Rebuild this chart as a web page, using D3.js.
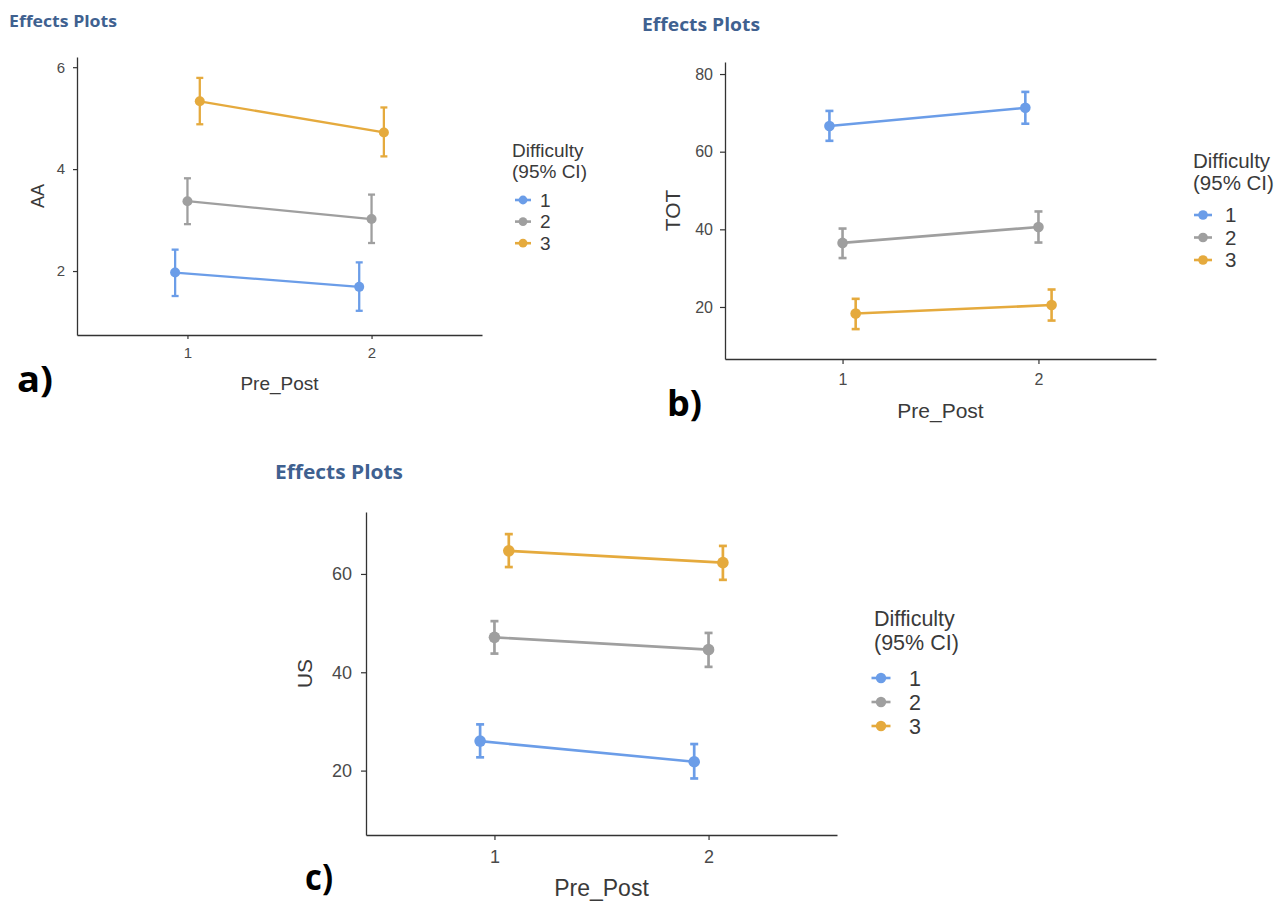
<!DOCTYPE html>
<html>
<head>
<meta charset="utf-8">
<script src="https://cdn.jsdelivr.net/npm/d3@7"></script>
<style>
  body { margin: 0; background: #fff; }
  svg { display: block; }
</style>
</head>
<body>
<svg id="chart" width="1285" height="904"></svg>
<script>
// x categories and groups
const prePost = [1, 2];
const difficulty = ["1", "2", "3"];

// panel a: AA, rows = difficulty, columns = Pre_Post
const aaMean  = [[1.97, 1.69], [3.37, 3.02], [5.33, 4.72]];
const aaLower = [[1.51, 1.22], [2.92, 2.55], [4.88, 4.25]];
const aaUpper = [[2.42, 2.17], [3.82, 3.50], [5.79, 5.21]];
const aaTicks = [2, 4, 6];
const aaRange = [0.745, 6.2];

// panel b: TOT
const totMean  = [[66.6, 71.3], [36.5, 40.6], [18.3, 20.5]];
const totLower = [[62.8, 67.2], [32.6, 36.6], [14.3, 16.5]];
const totUpper = [[70.5, 75.4], [40.2, 44.6], [22.1, 24.5]];
const totTicks = [20, 40, 60, 80];
const totRange = [6.6, 83.1];

// panel c: US
const usMean  = [[26.0, 21.8], [47.1, 44.6], [64.7, 62.3]];
const usLower = [[22.7, 18.4], [43.8, 41.1], [61.4, 58.8]];
const usUpper = [[29.4, 25.4], [50.4, 48.0], [68.1, 65.7]];
const usTicks = [20, 40, 60];
const usRange = [6.9, 72.6];

const colors = ["#6b9de8", "#9f9f9f", "#e5aa3d"];
const dodge = [-0.067, 0, 0.067];
const sans = "'Liberation Sans', Arial, sans-serif";
const heading = "'Open Sans', 'Noto Sans', sans-serif";

const panels = [
  { mean: aaMean, lo: aaLower, hi: aaUpper, ticks: aaTicks, ydom: aaRange,
    ylab: "AA", tag: "a)",
    box: { l: 77, r: 482, t: 57, b: 335 },
    tickFont: 15, tickSize: 4, yPad: 8, xPad: 8, r: 5, lw: 2.3, cap: 3.5,
    xLab: { y: 390, size: 19 }, yLab: { x: 44, size: 18 },
    title: { x: 9, y: 27, size: 16, len: 108 },
    tagPos: { x: 17, y: 392, len: 36 },
    legend: { x: 512, t1: 157, t2: 178, size: 19, y0: 200, dy: 21.6, kx: 523, kw: 8, kr: 4.4, lx: 540 } },
  { mean: totMean, lo: totLower, hi: totUpper, ticks: totTicks, ydom: totRange,
    ylab: "TOT", tag: "b)",
    box: { l: 725, r: 1156, t: 62, b: 359 },
    tickFont: 16, tickSize: 5, yPad: 7, xPad: 10, r: 5.3, lw: 2.6, cap: 4,
    xLab: { y: 418, size: 21 }, yLab: { x: 680, size: 21 },
    title: { x: 642, y: 31, size: 17.5, len: 118 },
    tagPos: { x: 667, y: 416, len: 35 },
    legend: { x: 1193, t1: 168, t2: 190, size: 20.5, y0: 215, dy: 22.5, kx: 1203, kw: 9, kr: 4.8, lx: 1225 } },
  { mean: usMean, lo: usLower, hi: usUpper, ticks: usTicks, ydom: usRange,
    ylab: "US", tag: "c)",
    box: { l: 366, r: 837, t: 512, b: 835 },
    tickFont: 18, tickSize: 5, yPad: 9, xPad: 10, r: 5.8, lw: 2.7, cap: 4,
    xLab: { y: 896, size: 23 }, yLab: { x: 312, size: 21 },
    title: { x: 275, y: 479, size: 19, len: 128 },
    tagPos: { x: 305, y: 890, len: 28 },
    legend: { x: 874, t1: 626, t2: 650, size: 21.5, y0: 678, dy: 24, kx: 881, kw: 9.5, kr: 5.2, lx: 909 } }
];

const svg = d3.select("#chart");

panels.forEach(function(p) {
  const g = svg.append("g");
  const x = d3.scaleLinear().domain([0.4, 2.6]).range([p.box.l, p.box.r]);
  const y = d3.scaleLinear().domain(p.ydom).range([p.box.b, p.box.t]);

  // axes
  const xAxis = d3.axisBottom(x)
                  .tickValues(prePost)
                  .tickFormat(d3.format("d"))
                  .tickSize(p.tickSize)
                  .tickSizeOuter(0)
                  .tickPadding(p.xPad);
  const yAxis = d3.axisLeft(y)
                  .tickValues(p.ticks)
                  .tickFormat(d3.format("d"))
                  .tickSize(p.tickSize)
                  .tickSizeOuter(0)
                  .tickPadding(p.yPad);

  const gx = g.append("g")
              .attr("transform", "translate(0," + p.box.b + ")")
              .call(xAxis);
  const gy = g.append("g")
              .attr("transform", "translate(" + p.box.l + ",0)")
              .call(yAxis);

  [gx, gy].forEach(function(a) {
    a.attr("font-family", sans).attr("font-size", p.tickFont);
    a.select(".domain").attr("stroke", "#333").attr("stroke-width", 1.3);
    a.selectAll(".tick line").attr("stroke", "#333").attr("stroke-width", 1.2);
    a.selectAll(".tick text").attr("fill", "#4a4a4a");
  });

  // axis titles
  g.append("text")
   .attr("x", (p.box.l + p.box.r) / 2)
   .attr("y", p.xLab.y)
   .attr("text-anchor", "middle")
   .attr("font-family", sans)
   .attr("font-size", p.xLab.size)
   .attr("fill", "#3a3a3a")
   .text("Pre_Post");

  g.append("text")
   .attr("transform", "translate(" + p.yLab.x + "," + (p.box.t + p.box.b) / 2 + ") rotate(-90)")
   .attr("text-anchor", "middle")
   .attr("font-family", sans)
   .attr("font-size", p.yLab.size)
   .attr("fill", "#3a3a3a")
   .text(p.ylab);

  // lines, error bars, points per difficulty level
  difficulty.forEach(function(lev, i) {
    const pts = prePost.map(function(pp, j) {
      return { x: pp + dodge[i], m: p.mean[i][j], lo: p.lo[i][j], hi: p.hi[i][j] };
    });

    g.append("path")
     .datum(pts)
     .attr("fill", "none")
     .attr("stroke", colors[i])
     .attr("stroke-width", p.lw)
     .attr("d", d3.line().x(d => x(d.x)).y(d => y(d.m)));

    const eb = g.append("g").attr("stroke", colors[i]).attr("stroke-width", p.lw);
    eb.selectAll(".bar")
      .data(pts)
      .enter()
      .append("line")
      .attr("x1", d => x(d.x)).attr("x2", d => x(d.x))
      .attr("y1", d => y(d.lo)).attr("y2", d => y(d.hi));
    eb.selectAll(".capLo")
      .data(pts)
      .enter()
      .append("line")
      .attr("x1", d => x(d.x) - p.cap).attr("x2", d => x(d.x) + p.cap)
      .attr("y1", d => y(d.lo)).attr("y2", d => y(d.lo));
    eb.selectAll(".capHi")
      .data(pts)
      .enter()
      .append("line")
      .attr("x1", d => x(d.x) - p.cap).attr("x2", d => x(d.x) + p.cap)
      .attr("y1", d => y(d.hi)).attr("y2", d => y(d.hi));

    g.selectAll(".pt" + i)
     .data(pts)
     .enter()
     .append("circle")
     .attr("cx", d => x(d.x))
     .attr("cy", d => y(d.m))
     .attr("r", p.r)
     .attr("fill", colors[i]);
  });

  // legend
  const L = p.legend;
  const lg = g.append("g").attr("font-family", sans).attr("fill", "#3a3a3a");
  lg.append("text").attr("x", L.x).attr("y", L.t1).attr("font-size", L.size).text("Difficulty");
  lg.append("text").attr("x", L.x).attr("y", L.t2).attr("font-size", L.size).text("(95% CI)");

  difficulty.forEach(function(lev, i) {
    const cy = L.y0 + i * L.dy;
    lg.append("line")
      .attr("x1", L.kx - L.kw).attr("x2", L.kx + L.kw)
      .attr("y1", cy).attr("y2", cy)
      .attr("stroke", colors[i]).attr("stroke-width", 2.6);
    lg.append("circle")
      .attr("cx", L.kx).attr("cy", cy).attr("r", L.kr)
      .attr("fill", colors[i]);
    lg.append("text")
      .attr("x", L.lx).attr("y", cy).attr("dy", "0.36em")
      .attr("font-size", L.size)
      .text(lev);
  });

  // "Effects Plots" heading and panel tag
  g.append("text")
   .attr("x", p.title.x).attr("y", p.title.y)
   .attr("font-family", heading)
   .attr("font-weight", "bold")
   .attr("font-size", p.title.size)
   .attr("fill", "#3f6190")
   .attr("textLength", p.title.len)
   .attr("lengthAdjust", "spacingAndGlyphs")
   .text("Effects Plots");

  g.append("text")
   .attr("x", p.tagPos.x).attr("y", p.tagPos.y)
   .attr("font-family", heading)
   .attr("font-weight", "bold")
   .attr("font-size", 35)
   .attr("fill", "#000")
   .attr("textLength", p.tagPos.len)
   .attr("lengthAdjust", "spacingAndGlyphs")
   .text(p.tag);
});
</script>
</body>
</html>
